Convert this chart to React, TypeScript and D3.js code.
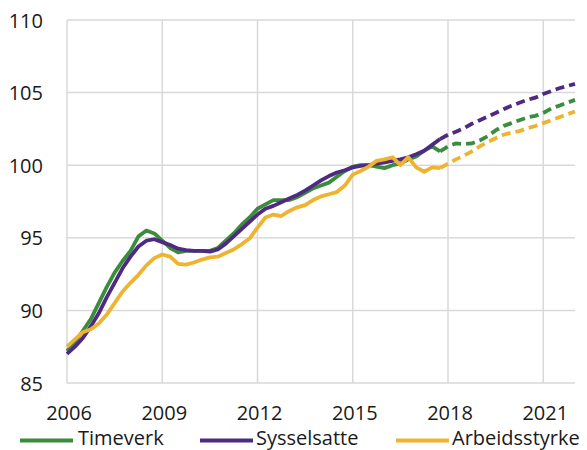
import React from "react";
import * as d3 from "d3";

const startYear = 2006;
const step = 0.25;

const timeverkActual = [
  87.2, 87.8, 88.6, 89.4, 90.5, 91.6, 92.6, 93.4, 94.1, 95.1, 95.5, 95.3,
  94.8, 94.3, 94.0, 94.1, 94.1, 94.1, 94.1, 94.3, 94.8, 95.3, 95.9, 96.4,
  97.0, 97.3, 97.6, 97.6, 97.6, 97.8, 98.1, 98.4, 98.6, 98.8, 99.2, 99.6,
  99.9, 100.0, 100.0, 99.9, 99.8, 100.0, 100.1, 100.4, 100.6, 101.0, 101.3, 100.95,
];
const timeverkForecast = [
  100.95, 101.3, 101.5, 101.45, 101.5, 101.7, 102.0, 102.4, 102.7, 102.9, 103.1,
  103.3, 103.4, 103.6, 103.9, 104.1, 104.3, 104.5,
];

const sysselsatteActual = [
  87.0, 87.5, 88.1, 88.9, 89.8, 90.9, 91.9, 92.9, 93.7, 94.4, 94.8, 94.9,
  94.7, 94.5, 94.25, 94.15, 94.1, 94.1, 94.05, 94.2, 94.6, 95.1, 95.6, 96.1,
  96.6, 97.0, 97.2, 97.45, 97.7, 97.95, 98.25, 98.6, 98.95, 99.25, 99.5, 99.65,
  99.85, 99.95, 100.0, 100.1, 100.2, 100.3, 100.4, 100.55, 100.75, 101.0, 101.4, 101.8,
];
const sysselsatteForecast = [
  101.8, 102.1, 102.3, 102.55, 102.85, 103.1, 103.35, 103.6, 103.85, 104.1, 104.3,
  104.5, 104.65, 104.9, 105.1, 105.3, 105.45, 105.6,
];

const arbeidsstyrkeActual = [
  87.5, 88.0, 88.5, 88.7, 89.1, 89.7, 90.5, 91.3, 91.9, 92.45, 93.1, 93.6,
  93.85, 93.7, 93.2, 93.15, 93.3, 93.5, 93.65, 93.7, 93.95, 94.2, 94.55, 94.95,
  95.7, 96.4, 96.6, 96.5, 96.85, 97.1, 97.25, 97.6, 97.85, 98.0, 98.15, 98.6,
  99.35, 99.6, 99.9, 100.3, 100.4, 100.55, 100.0, 100.55, 99.85, 99.55, 99.85, 99.8,
];
const arbeidsstyrkeForecast = [
  99.8, 100.1, 100.4, 100.65, 100.95, 101.3, 101.6, 101.85, 102.1, 102.25, 102.35,
  102.55, 102.7, 102.9, 103.1, 103.3, 103.5, 103.7,
];

const xTicks = [2006, 2009, 2012, 2015, 2018, 2021];
const yTicks = [85, 90, 95, 100, 105, 110];

const seriesNames = ["Timeverk", "Sysselsatte", "Arbeidsstyrke"];
const seriesColors = ["#3b8c3c", "#4f2a82", "#efb42f"];

const W = 587;
const H = 450;
const left = 67;
const right = 575;
const top = 20;
const bottom = 383;

export default function App() {
  const x = d3.scaleLinear().domain([2006, 2022]).range([left, right]);
  const y = d3.scaleLinear().domain([85, 110]).range([bottom, top]);
  const actualStart = startYear;
  const forecastStart = startYear + (timeverkActual.length - 1) * step;

  const mk = (vals: number[], t0: number) =>
    vals.map((v, i) => [t0 + i * step, v] as [number, number]);

  const line = d3
    .line<[number, number]>()
    .x((d) => x(d[0]))
    .y((d) => y(d[1]))
    .curve(d3.curveLinear);

  const actuals = [timeverkActual, sysselsatteActual, arbeidsstyrkeActual];
  const forecasts = [timeverkForecast, sysselsatteForecast, arbeidsstyrkeForecast];
  const font = "'Open Sans', 'Noto Sans', sans-serif";

  const legendItems = [
    { lx: 20, tx: 78 },
    { lx: 200, tx: 256 },
    { lx: 396, tx: 452 },
  ];

  return (
    <svg
      width={W}
      height={H}
      style={{ position: "absolute", left: 0, top: 0, background: "#fff" }}
      fontFamily={font}
    >
      {yTicks.map((t) => (
        <line
          key={"hy" + t}
          x1={left}
          x2={right}
          y1={y(t)}
          y2={y(t)}
          stroke="#d9d9d9"
          strokeWidth={1.5}
        />
      ))}
      {xTicks.map((t) => (
        <line
          key={"vx" + t}
          x1={x(t)}
          x2={x(t)}
          y1={top}
          y2={bottom}
          stroke="#d9d9d9"
          strokeWidth={1.5}
        />
      ))}
      {yTicks.map((t) => (
        <text
          key={"yl" + t}
          x={43}
          y={y(t) + 7.5}
          textAnchor="end"
          fontSize={20}
          fill="#1a1a1a"
        >
          {t}
        </text>
      ))}
      {xTicks.map((t) => (
        <text
          key={"xl" + t}
          x={x(t) + 2}
          y={420}
          textAnchor="middle"
          fontSize={20}
          fill="#1a1a1a"
        >
          {t}
        </text>
      ))}
      {actuals.map((vals, i) => (
        <path
          key={"a" + i}
          d={line(mk(vals, actualStart)) || ""}
          fill="none"
          stroke={seriesColors[i]}
          strokeWidth={3.8}
          strokeLinejoin="round"
        />
      ))}
      {forecasts.map((vals, i) => (
        <path
          key={"f" + i}
          d={line(mk(vals, forecastStart)) || ""}
          fill="none"
          stroke={seriesColors[i]}
          strokeWidth={3.8}
          strokeDasharray="9,5"
        />
      ))}
      {seriesNames.map((n, i) => (
        <g key={"lg" + i}>
          <line
            x1={legendItems[i].lx}
            x2={legendItems[i].lx + 53}
            y1={440.5}
            y2={440.5}
            stroke={seriesColors[i]}
            strokeWidth={4}
          />
          <text x={legendItems[i].tx} y={444.5} fontSize={20} fill="#1a1a1a">
            {n}
          </text>
        </g>
      ))}
    </svg>
  );
}
